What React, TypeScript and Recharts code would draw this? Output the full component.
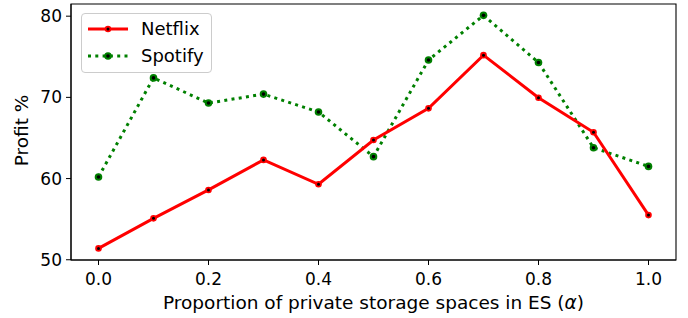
import { LineChart, Line, XAxis, YAxis, ReferenceArea } from "recharts"

const alphas = [0, 0.1, 0.2, 0.3, 0.4, 0.5, 0.6, 0.7, 0.8, 0.9, 1.0]
const netflix = [51.4, 55.1, 58.6, 62.3, 59.3, 64.75, 68.65, 75.2, 69.95, 65.7, 55.5]
const spotify = [60.2, 72.4, 69.3, 70.4, 68.2, 62.7, 74.6, 80.1, 74.3, 63.8, 61.5]
const xTicks = [0, 0.2, 0.4, 0.6, 0.8, 1.0]
const yTicks = [50, 60, 70, 80]

const data = alphas.map((a, i) => ({ alpha: a, netflix: netflix[i], spotify: spotify[i] }))

const FONT = "'DejaVu Sans', sans-serif"
const RED = "#ff0000"
const GREEN = "#008000"

const makeDot = (color: string, r: number, inner: number) => (props: any) => {
  const { cx, cy, index } = props
  if (cx == null || cy == null) return <g key={index} />
  return (
    <g key={index}>
      <circle cx={cx} cy={cy} r={r} fill={color} />
      <circle cx={cx} cy={cy} r={inner} fill="#000" />
    </g>
  )
}

function LegendBox() {
  const rows = [
    { name: "Netflix", color: RED, dash: undefined, r: 3.3, inner: 1.5 },
    { name: "Spotify", color: GREEN, dash: "3 4.3", r: 3.8, inner: 1.8 },
  ]
  return (
    <div
      style={{
        position: "absolute",
        left: 81,
        top: 13,
        width: 131,
        height: 60,
        border: "1px solid #cccccc",
        borderRadius: 4,
        background: "rgba(255,255,255,0.8)",
        boxSizing: "border-box",
        fontFamily: FONT,
        fontSize: 18,
      }}
    >
      {rows.map((row, i) => (
        <div key={row.name} style={{ position: "absolute", left: 0, top: 3 + i * 27, height: 24, display: "flex", alignItems: "center" }}>
          <svg width={56} height={24} style={{ display: "block" }}>
            <line x1={6} x2={46} y1={12} y2={12} stroke={row.color} strokeWidth={3} strokeDasharray={row.dash} />
            <circle cx={26} cy={12} r={row.r} fill={row.color} />
            <circle cx={26} cy={12} r={row.inner} fill="#000" />
          </svg>
          <span style={{ marginLeft: 3, color: "#000", lineHeight: "24px" }}>{row.name}</span>
        </div>
      ))}
    </div>
  )
}

export default function App() {
  return (
    <div style={{ position: "absolute", left: 0, top: 0, width: 688, height: 318, background: "#fff" }}>
      <LineChart width={688} height={318} data={data} margin={{ top: 4, right: 12, left: 0, bottom: 0 }}>
        <XAxis
          dataKey="alpha"
          type="number"
          domain={[-0.05, 1.05]}
          ticks={xTicks}
          tickFormatter={(v: number) => v.toFixed(1)}
          allowDataOverflow
          height={58}
          tickSize={5}
          tickMargin={8}
          stroke="#000"
          tick={{ fill: "#000", fontSize: 17, fontFamily: FONT }}
          label={{
            content: () => (
              <text x={373.5} y={309} textAnchor="middle" fontSize={18.5} fontFamily={FONT} fill="#000">
                Proportion of private storage spaces in ES (<tspan fontStyle="italic">α</tspan>)
              </text>
            ),
          }}
        />
        <YAxis
          type="number"
          domain={[49.97, 81.5]}
          ticks={yTicks}
          allowDataOverflow
          width={71}
          tickSize={5}
          tickMargin={4}
          stroke="#000"
          tick={{ fill: "#000", fontSize: 17, fontFamily: FONT }}
          label={{
            content: () => (
              <text x={28} y={130.5} textAnchor="middle" fontSize={18.5} fontFamily={FONT} fill="#000" transform="rotate(-90 28 130.5)">
                Profit %
              </text>
            ),
          }}
        />
        <ReferenceArea x1={-0.05} x2={1.05} y1={49.97} y2={81.5} fill="none" stroke="#000" strokeWidth={1.1} ifOverflow="visible" />
        <Line
          type="linear"
          dataKey="spotify"
          stroke={GREEN}
          strokeWidth={3}
          strokeDasharray="3 4.3"
          dot={makeDot(GREEN, 3.8, 1.8)}
          activeDot={false}
          isAnimationActive={false}
        />
        <Line
          type="linear"
          dataKey="netflix"
          stroke={RED}
          strokeWidth={3}
          dot={makeDot(RED, 3.3, 1.5)}
          activeDot={false}
          isAnimationActive={false}
        />
      </LineChart>
      <LegendBox />
    </div>
  )
}
